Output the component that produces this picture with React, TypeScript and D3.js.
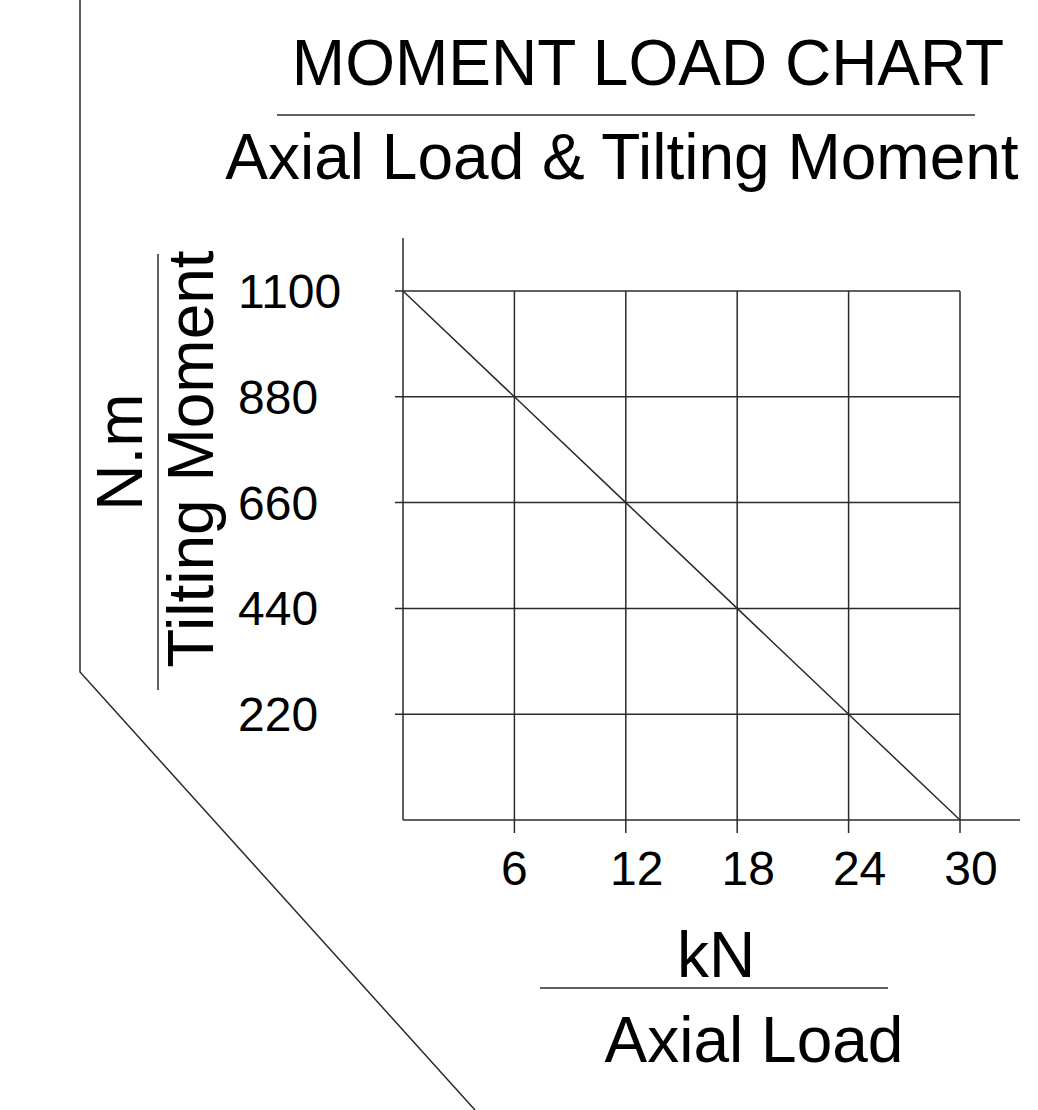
import React from "react";
import * as d3 from "d3";

const xTicks = [6, 12, 18, 24, 30];
const yTicks = [220, 440, 660, 880, 1100];
const xTickLabels = ["6", "12", "18", "24", "30"];
const yTickLabels = ["220", "440", "660", "880", "1100"];
const loadX = [0, 6, 12, 18, 24, 30];
const momentY = [1100, 880, 660, 440, 220, 0];

const title = "MOMENT LOAD CHART";
const subtitle = "Axial Load & Tilting Moment";
const xUnit = "kN";
const xName = "Axial Load";
const yUnit = "N.m";
const yName = "Tilting Moment";

const W = 1038;
const H = 1110;
const FONT = "'Liberation Sans', Arial, sans-serif";
const STROKE = "#2b2b2b";

export default function App() {
  const x = d3.scaleLinear().domain([0, 30]).range([403, 960]);
  const y = d3.scaleLinear().domain([0, 1100]).range([820, 291]);
  const line = d3
    .line<number>()
    .x((_, i) => x(loadX[i]))
    .y((d) => y(d));

  return (
    <svg
      width={W}
      height={H}
      style={{ position: "absolute", left: 0, top: 0, display: "block", background: "#fff" }}
      fontFamily={FONT}
    >
      <rect x={0} y={0} width={W} height={H} fill="#fff" />
      {/* decorative frame */}
      <polyline points="80,0 80,672 475,1110" fill="none" stroke={STROKE} strokeWidth={1.5} />

      {/* title */}
      <text x={648} y={85} textAnchor="middle" fontSize={64} fill="#000">
        {title}
      </text>
      <line x1={277} x2={975} y1={115} y2={115} stroke={STROKE} strokeWidth={1.5} />
      <text x={622} y={179} textAnchor="middle" fontSize={64} fill="#000">
        {subtitle}
      </text>

      {/* horizontal gridlines */}
      {yTicks.map((t) => (
        <line key={"hy" + t} x1={x(0) - 8} x2={x(30)} y1={y(t)} y2={y(t)} stroke={STROKE} strokeWidth={1.5} />
      ))}
      {/* vertical gridlines */}
      {xTicks.map((t) => (
        <line key={"vx" + t} x1={x(t)} x2={x(t)} y1={y(1100)} y2={y(0) + 13} stroke={STROKE} strokeWidth={1.5} />
      ))}
      {/* axes */}
      <line x1={x(0)} x2={x(0)} y1={238} y2={y(0)} stroke={STROKE} strokeWidth={1.5} />
      <line x1={x(0)} x2={1020} y1={y(0)} y2={y(0)} stroke={STROKE} strokeWidth={1.5} />

      {/* data line */}
      <path d={line(momentY) || ""} fill="none" stroke={STROKE} strokeWidth={1.5} />

      {/* y tick labels */}
      {yTicks.map((t, i) => (
        <text key={"yl" + t} x={238} y={y(t) + 17} fontSize={48} fill="#000">
          {yTickLabels[i]}
        </text>
      ))}
      {/* x tick labels */}
      {xTicks.map((t, i) => (
        <text
          key={"xl" + t}
          x={x(t) + (xTickLabels[i].length > 1 ? 11 : 0)}
          y={885}
          textAnchor="middle"
          fontSize={48}
          fill="#000"
        >
          {xTickLabels[i]}
        </text>
      ))}

      {/* x axis title */}
      <text x={716} y={977} textAnchor="middle" fontSize={64} fill="#000">
        {xUnit}
      </text>
      <line x1={540} x2={888} y1={988} y2={988} stroke={STROKE} strokeWidth={1.5} />
      <text x={754} y={1062} textAnchor="middle" fontSize={64} fill="#000">
        {xName}
      </text>

      {/* y axis title */}
      <text transform="translate(142,452) rotate(-90)" textAnchor="middle" fontSize={64} fill="#000">
        {yUnit}
      </text>
      <line x1={158} x2={158} y1={254} y2={690} stroke={STROKE} strokeWidth={1.5} />
      <text transform="translate(213,459) rotate(-90)" textAnchor="middle" fontSize={64} fill="#000">
        {yName}
      </text>
    </svg>
  );
}
